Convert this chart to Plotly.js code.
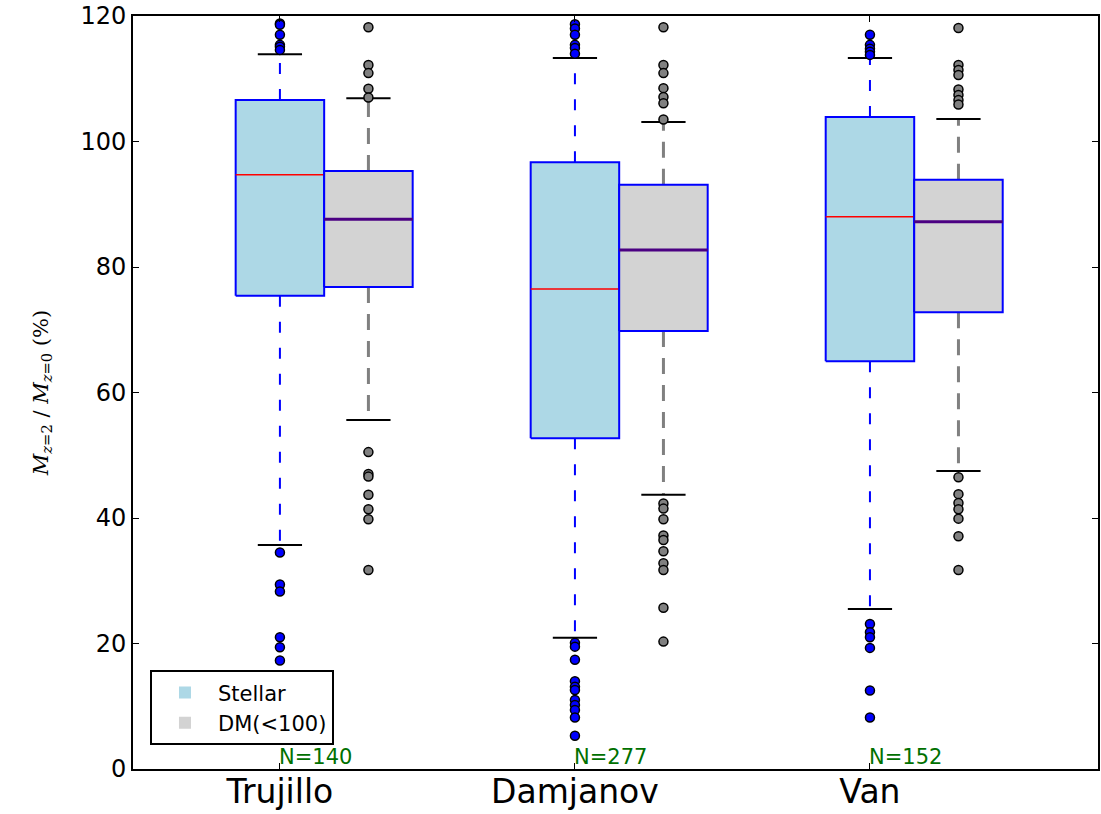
<!DOCTYPE html>
<html>
<head>
<meta charset="utf-8">
<script src="https://cdn.plot.ly/plotly-3.0.1.min.js"></script>
<style>html,body{margin:0;padding:0;background:#fff;}#chart{width:1101px;height:814px;}</style>
</head>
<body>
<div id="chart"></div>
<script>
// ---- data ----
const groups = ['Trujillo', 'Damjanov', 'Van'];
const nLabels = ['N=140', 'N=277', 'N=152'];

const stellarQ1 = [75.4, 52.7, 65.0];
const stellarMedian = [94.7, 76.5, 88.0];
const stellarQ3 = [106.6, 96.7, 103.9];
const stellarLowCap = [35.7, 20.9, 25.5];
const stellarHighCap = [113.9, 113.3, 113.3];
const stellarOutliers = [
  [118.8, 118.6, 117.0, 115.4, 115.1, 114.6, 34.5, 29.4, 28.3, 21.0, 19.4, 17.3],
  [118.7, 118.0, 117.0, 115.4, 114.9, 114.0, 20.1, 19.5, 17.4, 14.0, 13.1, 12.6, 11.0, 10.2, 9.4, 8.2, 5.3],
  [117.0, 115.4, 114.8, 114.3, 113.8, 23.1, 21.8, 21.0, 19.3, 12.5, 8.2]
];

const dmQ1 = [76.8, 69.8, 72.8];
const dmMedian = [87.6, 82.7, 87.2];
const dmQ3 = [95.3, 93.1, 93.9];
const dmLowCap = [55.6, 43.7, 47.5];
const dmHighCap = [106.9, 103.1, 103.6];
const dmOutliers = [
  [118.2, 112.2, 110.9, 108.4, 107.0, 50.5, 47.0, 46.6, 43.7, 41.4, 39.8, 31.7],
  [118.2, 112.2, 110.9, 108.5, 107.1, 106.1, 103.5, 42.3, 41.5, 39.8, 37.2, 36.5, 34.7, 32.8, 31.7, 25.7, 20.3],
  [118.1, 112.2, 111.4, 110.6, 108.3, 107.4, 106.6, 105.9, 46.5, 43.8, 42.4, 41.4, 39.9, 37.1, 31.7]
];

const seriesNames = ['Stellar', 'DM(<100)'];

// ---- styles ----
const BOXW = 0.3;
const series = [
  {name: seriesNames[0], off: 0, q1: stellarQ1, med: stellarMedian, q3: stellarQ3, lo: stellarLowCap, hi: stellarHighCap, out: stellarOutliers,
   fill: '#add8e6', medColor: '#ff0000', medW: 1.5, whColor: '#0000ff', whW: 2, whDash: '11px,15px', ptColor: '#0000ff'},
  {name: seriesNames[1], off: BOXW, q1: dmQ1, med: dmMedian, q3: dmQ3, lo: dmLowCap, hi: dmHighCap, out: dmOutliers,
   fill: '#d3d3d3', medColor: '#4b0082', medW: 3, whColor: '#808080', whW: 3, whDash: '16px,11px', ptColor: '#808080'}
];

const traces = [];
series.forEach(s => {
  groups.forEach((g, i) => {
    const c = i + 1 + s.off;
    const L = c - BOXW / 2, R = c + BOXW / 2;
    const cl = c - BOXW / 4, cr = c + BOXW / 4;
    traces.push({x: [c, c, null, c, c], y: [s.q3[i], s.hi[i], null, s.q1[i], s.lo[i]], mode: 'lines',
      line: {color: s.whColor, width: s.whW, dash: s.whDash}, showlegend: false, hoverinfo: 'skip'});
    traces.push({x: [L, R, R, L, L], y: [s.q1[i], s.q1[i], s.q3[i], s.q3[i], s.q1[i]], mode: 'lines', fill: 'toself',
      fillcolor: s.fill, line: {color: '#0000ff', width: 2}, showlegend: false, hoverinfo: 'skip'});
    traces.push({x: [L, R], y: [s.med[i], s.med[i]], mode: 'lines', line: {color: s.medColor, width: s.medW},
      showlegend: false, hoverinfo: 'skip'});
    traces.push({x: [cl, cr, null, cl, cr], y: [s.hi[i], s.hi[i], null, s.lo[i], s.lo[i]], mode: 'lines',
      line: {color: '#000000', width: 2}, showlegend: false, hoverinfo: 'skip'});
    traces.push({x: s.out[i].map(() => c), y: s.out[i], mode: 'markers',
      marker: {color: s.ptColor, size: 9, line: {color: '#000000', width: 1.5}}, showlegend: false, hoverinfo: 'skip'});
  });
});
// legend entries
series.forEach(s => {
  traces.push({x: [null], y: [null], type: 'bar', name: s.name, marker: {color: s.fill, line: {width: 0}}, showlegend: true});
});

const annotations = groups.map((g, i) => ({
  x: i + 1, y: 0, xref: 'x', yref: 'y', text: nLabels[i], showarrow: false,
  xanchor: 'left', yanchor: 'bottom', xshift: -3, yshift: -2,
  font: {family: 'DejaVu Sans', size: 21, color: '#007000'}
}));

const layout = {
  width: 1101, height: 814,
  margin: {l: 133, r: 3, t: 16, b: 45},
  paper_bgcolor: '#ffffff', plot_bgcolor: '#ffffff',
  font: {family: 'DejaVu Sans', color: '#000000'},
  showlegend: true,
  legend: {x: 0.0176, y: 0.131, xanchor: 'left', yanchor: 'top', bordercolor: '#000000', borderwidth: 2,
    bgcolor: '#ffffff', font: {family: 'DejaVu Sans', size: 21}, itemwidth: 56, tracegroupgap: 6},
  xaxis: {range: [0.502, 3.773], tickmode: 'array', tickvals: groups.map((g, i) => i + 1), ticktext: groups,
    ticks: 'inside', ticklen: 6, tickcolor: '#000', showline: true, linecolor: '#000', linewidth: 2, mirror: 'ticks',
    showgrid: false, zeroline: false, tickfont: {family: 'DejaVu Sans', size: 33}, ticklabelstandoff: -8, fixedrange: true},
  yaxis: {range: [0, 120], tickmode: 'array', tickvals: [0, 20, 40, 60, 80, 100, 120],
    ticks: 'inside', ticklen: 6, tickcolor: '#000', showline: true, linecolor: '#000', linewidth: 2, mirror: 'ticks',
    showgrid: false, zeroline: false, tickfont: {family: 'DejaVu Sans', size: 24},
    title: {text: '<i>M</i><sub><i>z</i>=2</sub> / <i>M</i><sub><i>z</i>=0</sub> (%)', font: {family: 'DejaVu Serif', size: 21}, standoff: 26},
    fixedrange: true},
  annotations: annotations,
  barmode: 'overlay'
};

Plotly.newPlot('chart', traces, layout, {displayModeBar: false, staticPlot: true});
</script>
</body>
</html>
